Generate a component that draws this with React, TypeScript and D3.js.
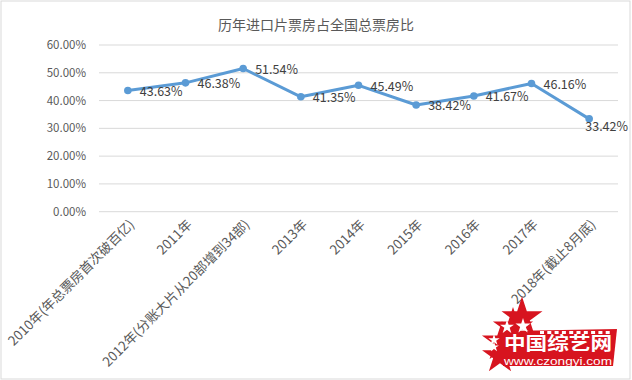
import React from "react";
import * as d3 from "d3";

const categories = [
  "2010年(年总票房首次破百亿)",
  "2011年",
  "2012年(分账大片从20部增到34部)",
  "2013年",
  "2014年",
  "2015年",
  "2016年",
  "2017年",
  "2018年(截止8月底)",
];
const shares = [43.63, 46.38, 51.54, 41.35, 45.49, 38.42, 41.67, 46.16, 33.42];
const yTicks = [0, 10, 20, 30, 40, 50, 60];
const title = "历年进口片票房占全国总票房比";

const W = 632;
const H = 380;
const FONT = "'Noto Sans CJK SC', 'Noto Sans', sans-serif";
const TXT = "#595959";
const LINE = "#5b9bd5";

export default function App() {
  const x = d3.scaleBand<string>().domain(categories).range([99, 618]);
  const y = d3.scaleLinear().domain([0, 60]).range([211.7, 45]);
  const cx = (c: string) => (x(c) as number) + x.bandwidth() / 2;
  const line = d3
    .line<number>()
    .x((_, i) => cx(categories[i]))
    .y((d) => y(d));
  const fmt = (v: number) => v.toFixed(2) + "%";
  const starPath = (size: number) => d3.symbol(d3.symbolStar, size)() as string;
  const holes = d3.range(10);

  return (
    <svg
      width={W}
      height={H}
      style={{ position: "absolute", left: 0, top: 0, background: "#fff" }}
      fontFamily={FONT}
    >
      <rect x={1} y={1} width={629} height={378} fill="#fff" stroke="#d9d9d9" />
      <text x={316} y={30} textAnchor="middle" fontSize={14} fill={TXT}>
        {title}
      </text>
      {yTicks.map((t) => (
        <g key={t}>
          <line x1={99} x2={618} y1={y(t)} y2={y(t)} stroke="#d9d9d9" strokeWidth={1} />
          <text x={86} y={y(t)} dy="0.35em" textAnchor="end" fontSize={11.5} fill={TXT}>
            {t.toFixed(2) + "%"}
          </text>
        </g>
      ))}
      {categories.map((c) => (
        <text
          key={c}
          transform={`translate(${cx(c) + 4},${222}) rotate(-45)`}
          textAnchor="end"
          dy="0.35em"
          fontSize={13.3}
          fill={TXT}
        >
          {c}
        </text>
      ))}
      <path d={line(shares) as string} fill="none" stroke={LINE} strokeWidth={3} strokeLinejoin="round" />
      {shares.map((v, i) => (
        <circle key={i} cx={cx(categories[i])} cy={y(v)} r={3.8} fill={LINE} />
      ))}
      {shares.map((v, i) => {
        const px = cx(categories[i]);
        const overflow = px + 12 + 40 > 628;
        return (
          <text
            key={i}
            x={overflow ? 628 : px + 12}
            y={y(v) + (overflow ? 8 : 1)}
            dy="0.35em"
            textAnchor={overflow ? "end" : "start"}
            fontSize={12.5}
            fill="#404040"
          >
            {fmt(v)}
          </text>
        );
      })}
      <g>
        <path d="M503,331 L617,329 L613,366 L503,366 Z" fill="#d7141f" />
        <g fill="#d7141f">
          <path d={starPath(500)} transform="translate(513,328)" />
          <path d={starPath(520)} transform="translate(522,318)" />
          <path d={starPath(500)} transform="translate(502,342)" />
          <path d={starPath(400)} transform="translate(500,356)" />
        </g>
        <g fill="#fff">
          <path d={starPath(60)} transform="translate(507,327)" />
          <path d={starPath(70)} transform="translate(523,326)" />
          <path d={starPath(40)} transform="translate(494,340)" />
          <path d={starPath(30)} transform="translate(494,347)" />
        </g>
        {holes.map((i) => (
          <rect key={i} x={540 + i * 7.3} y={331} width={4} height={3} fill="#fff" />
        ))}
        <text x={504} y={350} textLength={108} lengthAdjust="spacingAndGlyphs" fontSize={18} fontWeight="bold" fill="#fff">
          中国综艺网
        </text>
        <text x={504} y={364.5} textLength={108} lengthAdjust="spacingAndGlyphs" fontSize={10} fill="#fff" fontFamily="'Liberation Sans', sans-serif">
          www.czongyi.com
        </text>
      </g>
    </svg>
  );
}
